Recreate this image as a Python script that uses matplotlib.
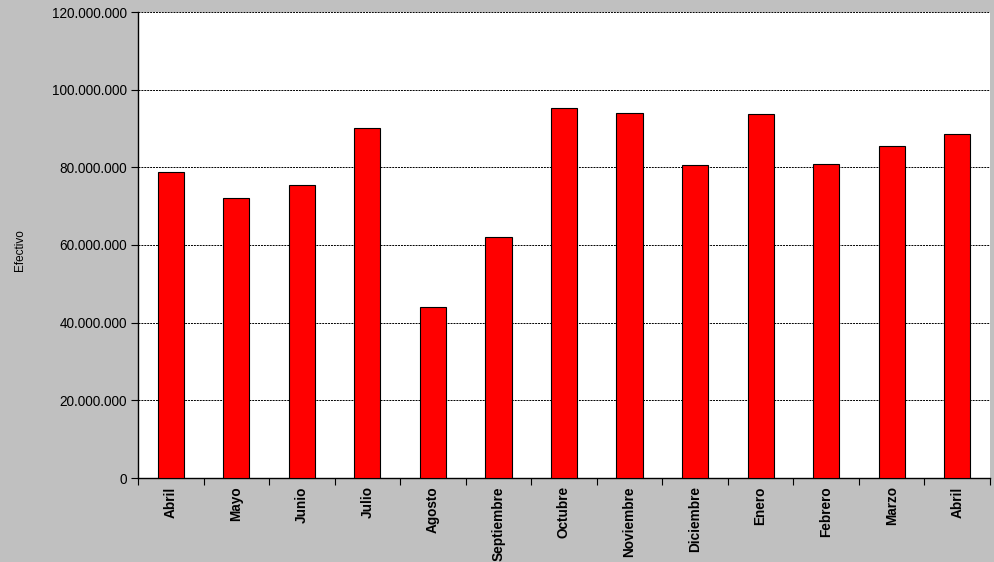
import matplotlib
matplotlib.use("Agg")
import matplotlib.pyplot as plt
from matplotlib.ticker import FuncFormatter, FixedLocator
import numpy as np

plt.rcParams['font.family'] = ['Liberation Sans', 'DejaVu Sans']

months = ["Abril", "Mayo", "Junio", "Julio", "Agosto", "Septiembre", "Octubre",
          "Noviembre", "Diciembre", "Enero", "Febrero", "Marzo", "Abril"]
values = [78.8e6, 72.1e6, 75.4e6, 90.1e6, 44.0e6, 62.1e6, 95.3e6,
          94.0e6, 80.6e6, 93.7e6, 80.9e6, 85.5e6, 88.6e6]
yticks = [0, 20e6, 40e6, 60e6, 80e6, 100e6, 120e6]

fig = plt.figure(figsize=(9.94, 5.62), dpi=100, facecolor='#C0C0C0')
ax = fig.add_axes([138/994, (562-478)/562, 852/994, 466/562])
ax.set_facecolor('white')

x = np.arange(len(months))
ax.bar(x, values, width=0.4, color='#FF0000', edgecolor='black', linewidth=0.8, zorder=3)

ax.set_xlim(-0.5, len(months) - 0.5)
ax.set_ylim(0, 120e6)
ax.set_yticks(yticks)
ax.yaxis.set_major_formatter(FuncFormatter(lambda v, p: f"{int(v):,}".replace(",", ".")))
ax.grid(axis='y', color='black', linestyle=(0, (2, 1)), linewidth=0.7, zorder=1)

ax.set_xticks(x)
ax.set_xticklabels(months, rotation=90, fontweight='bold', fontsize=9.8)
ax.tick_params(axis='x', length=0, pad=6)
ax.xaxis.set_minor_locator(FixedLocator(np.arange(len(months) + 1) - 0.5))
ax.tick_params(axis='x', which='minor', length=5, width=0.8, direction='out')
ax.tick_params(axis='y', length=5, width=0.8, direction='out', labelsize=9.8, colors='black', pad=3)

for s in ['top', 'right']:
    ax.spines[s].set_visible(False)
ax.spines['left'].set_linewidth(1.0)
ax.spines['bottom'].set_linewidth(1.0)

fig.text(20/994, 1 - 250/562, "Efectivo", rotation=90, fontsize=8.5,
         ha='center', va='center')

fig.savefig("out.png", dpi=100, facecolor=fig.get_facecolor())
